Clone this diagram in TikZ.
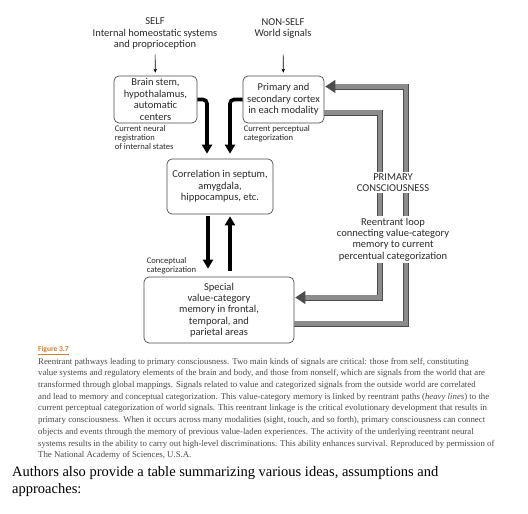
\documentclass[tikz,border=0pt]{standalone}
\usepackage{fontspec}
\setmainfont{Carlito}
\newfontfamily\capfont{Liberation Serif}
\usetikzlibrary{arrows.meta, positioning}
\definecolor{ink}{HTML}{2B2B2B}
\definecolor{capgray}{HTML}{4A4A4A}
\definecolor{figorange}{HTML}{D0802E}
\tikzstyle{box} = [draw=black!70, rounded corners=5pt, line width=0.7pt, align=center, font=\fontsize{10.5}{11.4}\selectfont, text=ink, inner sep=2pt]
\tikzstyle{heading} = [align=center, font=\fontsize{10.5}{11.4}\selectfont, text=ink, inner sep=1pt]
\tikzstyle{note} = [align=left, font=\fontsize{8.6}{9}\selectfont, text=ink, inner sep=1pt]
\tikzstyle{feed} = [-{Stealth[length=4pt, width=3.5pt]}, line width=0.6pt]
\tikzstyle{heavy} = [-{Triangle[length=9pt, width=10pt]}, line width=3.6pt, rounded corners=4pt]
\tikzstyle{loop} = [-{Triangle[length=10pt, width=13pt]}, draw=black!70, double=black!45, line width=0.8pt, double distance=4.4pt]
\tikzstyle{caption} = [anchor=west, inner sep=0pt, font=\capfont\fontsize{8.8}{10}\selectfont, text=capgray]

\begin{document}
\begin{tikzpicture}[x=1pt, y=-1pt]
    \fill [white] (0, 0) rectangle (528, 514);
    \useasboundingbox (0, 0) rectangle (528, 514);

    % Signal sources.
    \node (self) [heading] at (155, 33.5) {SELF\\Internal homeostatic systems\\and proprioception};
    \node (nonself) [heading] at (283, 28.5) {NON-SELF\\World signals};

    % Boxes.
    \node (brain) [box, minimum width=83pt, minimum height=47pt] at (155.5, 99.5) {Brain stem,\\hypothalamus,\\automatic\\centers};
    \node (primary) [box, minimum width=81pt, minimum height=47pt] at (283.5, 99.5) {Primary and\\secondary cortex\\in each modality};
    \node (corr) [box, minimum width=106pt, minimum height=55pt] at (220, 186.5) {Correlation in septum,\\amygdala,\\hippocampus, etc.};
    \node (special) [box, minimum width=150pt, minimum height=66pt] at (219, 310) {Special\\value-category\\memory in frontal,\\temporal, and\\parietal areas};

    % Small labels.
    \node (neural) [note, below right=1pt and 0pt of brain.south west] {Current neural\\registration\\of internal states};
    \node (perceptual) [note, below right=1pt and 0pt of primary.south west] {Current perceptual\\categorization};
    \node (conceptual) [note, above right=1pt and 2pt of special.north west] {Conceptual\\categorization};

    % Inputs.
    \draw [feed, shorten <=4pt, shorten >=3pt] (self) -- (brain);
    \draw [feed, shorten <=15pt, shorten >=3pt] (nonself) -- (primary);

    % Heavy black paths.
    \draw [heavy] (brain.east) -| ([xshift=-13pt, yshift=5pt]corr.north);
    \draw [heavy] (primary.west) -| ([xshift=10pt, yshift=5pt]corr.north);
    \draw [heavy] ([xshift=-12pt, yshift=-2pt]corr.south) -- ([xshift=-11pt, yshift=8pt]special.north);
    \draw [heavy] ([xshift=11pt, yshift=6pt]special.north) -- ([xshift=10pt, yshift=-2pt]corr.south);

    % Reentrant loops.
    \coordinate (outer) at (406, 86.5);
    \coordinate (inner) at (380, 297.5);
    \draw [loop] ([yshift=-13.5pt]special.east) -| (outer) -- ([xshift=1pt, yshift=13pt]primary.east);
    \draw [loop] ([yshift=-13pt]primary.east) -| (inner) -- ([xshift=1pt, yshift=12.5pt]special.east);

    \node (primcons) [heading, fill=white, inner sep=1.5pt] at (393, 182.5) {PRIMARY\\CONSCIOUSNESS};
    \node (reentrant) [heading, fill=white, inner sep=2pt] at (393, 239.5) {Reentrant loop\\connecting value-category\\memory to current\\percentual categorization};

    % Caption.
    \node (fig) [anchor=west, inner sep=0pt, font=\bfseries\fontsize{7.5}{9}\selectfont, text=figorange] at (38, 351) {\underline{Figure 3.7}};
    \foreach \t [count=\k] in {
        {Reentrant pathways leading to primary consciousness. Two main kinds of signals are critical: those from self, constituting},
        {value systems and regulatory elements of the brain and body, and those from nonself, which are signals from the world that are},
        {transformed through global mappings. Signals related to value and categorized signals from the outside world are correlated},
        {and lead to memory and conceptual categorization. This value-category memory is linked by reentrant paths (\textit{heavy lines}) to the},
        {current perceptual categorization of world signals. This reentrant linkage is the critical evolutionary development that results in},
        {primary consciousness. When it occurs across many modalities (sight, touch, and so forth), primary consciousness can connect},
        {objects and events through the memory of previous value-laden experiences. The activity of the underlying reentrant neural},
        {systems results in the ability to carry out high-level discriminations. This ability enhances survival. Reproduced by permission of},
        {The National Academy of Sciences, U.S.A.}} {
        \node (cap\k) [caption] at (38, 350.3 + 11.7*\k) {\t};
    }

    % Text below.
    \node (after) [anchor=north west, inner sep=0pt, align=left, font=\capfont\fontsize{14.5}{17}\selectfont] at (12, 466) {Authors also provide a table summarizing various ideas, assumptions and\\approaches:};
\end{tikzpicture}
\end{document}
